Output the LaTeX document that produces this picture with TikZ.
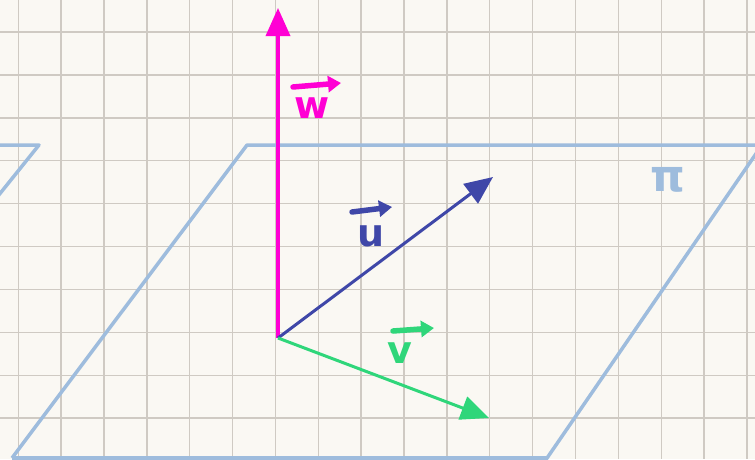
\documentclass[tikz,border=0pt]{standalone}
\usepackage{fontspec}
\usepackage{tikz}
\usetikzlibrary{arrows.meta,calc}
\newfontfamily\handfont{DejaVu Sans}
\definecolor{Paper}{HTML}{FAF8F3}
\definecolor{GridGray}{HTML}{CFCAC3}
\definecolor{PlaneBlue}{HTML}{9EBCDD}
\definecolor{Magenta}{HTML}{FF00D4}
\definecolor{Indigo}{HTML}{3F47A8}
\definecolor{Mint}{HTML}{2FD67A}

\begin{document}
\begin{tikzpicture}[x=1pt,y=-1pt,
gridl/.style={draw=GridGray,line width=1.4pt},
plane/.style={draw=PlaneBlue,line width=3.5pt,line join=round},
vec/.style={line width=3pt,-{Triangle[length=28pt,width=24pt]}},
lbl/.style={font=\handfont\bfseries\fontsize{38}{38}\selectfont,inner sep=0pt},
harrow/.style={line width=5.5pt,line cap=round,-{Triangle[length=13pt,width=16pt]}}]
\useasboundingbox (0,0) rectangle (755,459);
\fill[Paper] (0,0) rectangle (755,459);
\clip (0,0) rectangle (755,459);
% squared paper
\foreach \i in {0,...,17} \draw[gridl] ({18.3+42.86*\i},0) -- ++(0,459);
\foreach \j in {0,...,9} \draw[gridl] (0,{32+42.9*\j}) -- ++(755,0);
% the plane pi and a piece of another one
\draw[plane] (12,458) -- (247,145) -- (762,145);
\draw[plane] (762,145) -- (545,461);
\draw[plane] (12,458) -- (547,458);
\draw[plane] (-10,145) -- (39,145) -- (-6,201);
\node[lbl,text=PlaneBlue,font=\handfont\bfseries\fontsize{44}{44}\selectfont] (pi) at (668,180) {π};
% vectors
\coordinate (O) at (278,338);
\coordinate (W) at (278,8);
\coordinate (U) at (493,177);
\coordinate (V) at (489,418);
\draw[vec,Magenta,line width=3.6pt] (O) -- (W);
\draw[vec,Indigo] (O) -- (U);
\draw[vec,Mint] (O) -- (V);
% labels
\node[lbl,text=Magenta] (wl) at (312,108) {w};
\node[lbl,text=Indigo] (ul) at (371,236) {u};
\node[lbl,text=Mint] (vl) at (400,353) {v};
\coordinate (wa) at (293,87); \coordinate (wb) at (341,83);
\coordinate (ua) at (352,212); \coordinate (ub) at (392,207);
\coordinate (va) at (393,331); \coordinate (vb) at (434,328);
\draw[harrow,Magenta] (wa) -- (wb);
\draw[harrow,Indigo] (ua) -- (ub);
\draw[harrow,Mint] (va) -- (vb);
\end{tikzpicture}
\end{document}
